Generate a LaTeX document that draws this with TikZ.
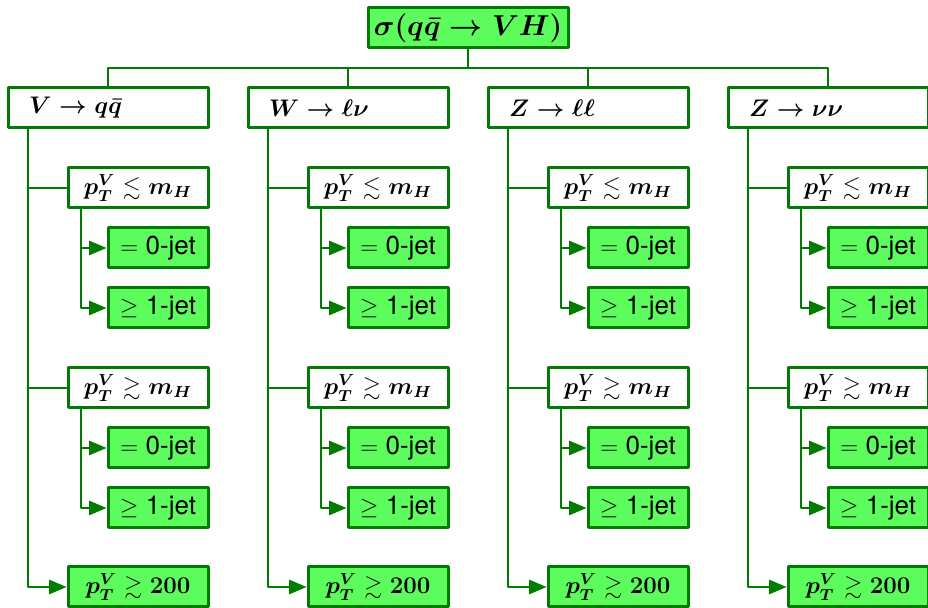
\documentclass[tikz,border=0pt]{standalone}
\usepackage{amsmath}
\usepackage{amssymb}
\usepackage{bm}
\usepackage{fontspec}
\setsansfont{TeX Gyre Heros}
\usepackage{tikz}
\usetikzlibrary{arrows}

\definecolor{vhline}{RGB}{0,125,0}
\definecolor{vhfill}{RGB}{92,252,92}

\tikzset{
  vhbox/.style={draw=vhline,line width=1.5pt,minimum height=20pt,inner sep=0pt,
    font=\fontsize{11.5}{13}\selectfont\boldmath},
  topbox/.style={vhbox,fill=vhfill,minimum width=100pt,font=\fontsize{14}{16}\selectfont\boldmath},
  procbox/.style={vhbox,fill=white,text width=79pt,inner xsep=10.5pt,align=left,
    font=\fontsize{12}{14}\selectfont\boldmath},
  binbox/.style={vhbox,fill=white,minimum width=70pt},
  boostbox/.style={vhbox,fill=vhfill,minimum width=70pt},
  jetbox/.style={vhbox,fill=vhfill,minimum width=50pt,font=\fontsize{13}{15}\selectfont\sffamily},
  wire/.style={draw=vhline,line width=1pt}
}

\begin{document}
\begin{tikzpicture}[line cap=round,line join=round,>=triangle 45,x=0.5pt,y=-0.5pt]
\useasboundingbox (0,0) rectangle (928,608);
\node[topbox] (top) at (468,28) {$\sigma(q\bar{q}\to VH)$};
\coordinate (bus) at (468,68);
\foreach \i/\x/\proc in {1/8/{V\to q\bar{q}},2/248/{W\to\ell\nu},3/488/{Z\to\ell\ell},4/728/{Z\to\nu\nu}}{
  % decay channel and its bins
  \node[procbox] (h\i) at (\x+100,108) {$\proc$};
  \node[binbox] (lo\i) at (\x+130,188) {$p_T^V\lesssim m_H$};
  \node[jetbox] (loz\i) at (\x+150,248) {$=$ 0-jet};
  \node[jetbox] (lon\i) at (\x+150,308) {$\geq$ 1-jet};
  \node[binbox] (hi\i) at (\x+130,388) {$p_T^V\gtrsim m_H$};
  \node[jetbox] (hiz\i) at (\x+150,448) {$=$ 0-jet};
  \node[jetbox] (hin\i) at (\x+150,508) {$\geq$ 1-jet};
  \node[boostbox] (boost\i) at (\x+130,587) {$p_T^V\gtrsim 200$};
  \coordinate (trunk\i) at (\x+20,128);
  \coordinate (losub\i) at (\x+73,208);
  \coordinate (hisub\i) at (\x+73,408);
  % connectors
  \draw[wire] (top.south) -- (bus) -| (h\i.north);
  \draw[wire] (trunk\i) |- (lo\i.west);
  \draw[wire] (trunk\i) |- (hi\i.west);
  \draw[wire,->] (trunk\i) |- (boost\i.west);
  \draw[wire,->] (losub\i) |- (loz\i.west);
  \draw[wire,->] (losub\i) |- (lon\i.west);
  \draw[wire,->] (hisub\i) |- (hiz\i.west);
  \draw[wire,->] (hisub\i) |- (hin\i.west);
}
\end{tikzpicture}
\end{document}
